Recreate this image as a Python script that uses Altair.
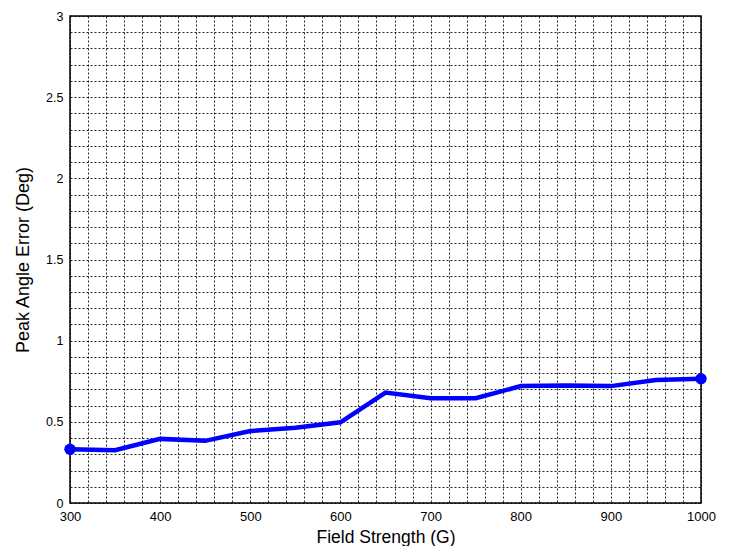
import altair as alt
import pandas as pd

field = [300, 350, 400, 450, 500, 550, 600, 650, 700, 750, 800, 850, 900, 950, 1000]
error = [0.331, 0.325, 0.395, 0.383, 0.443, 0.463, 0.497, 0.68, 0.645, 0.645, 0.72, 0.724, 0.72, 0.758, 0.765]

x_grid = list(range(300, 1001, 20))
y_grid = [round(i * 0.1, 1) for i in range(0, 31)]

df = pd.DataFrame({"field": field, "error": error})
ends = df.iloc[[0, -1]]

FONT = "Liberation Sans"

x_scale = alt.Scale(domain=[300, 1000], nice=False, zero=False)
y_scale = alt.Scale(domain=[0, 3], nice=False)

x_axis = alt.Axis(
    title="Field Strength (G)", values=x_grid, tickCount=200, labelOverlap=False,
    labelExpr="datum.value % 100 == 0 ? format(datum.value, 'd') : ''",
    grid=True, gridColor="black", gridDash=[2, 2], gridOpacity=0.85, gridWidth=1,
    ticks=False, domain=False, labelPadding=7, labelFontSize=13, titleFontSize=17.5,
    titleFontWeight="normal", labelFont=FONT, titleFont=FONT, titlePadding=5,
    labelColor="black", titleColor="black", labelFlush=False,
)
y_axis = alt.Axis(
    title="Peak Angle Error (Deg)", values=y_grid, tickCount=200, labelOverlap=False,
    labelExpr="(round(datum.value*10) % 5 == 0) ? format(datum.value, '~g') : ''",
    grid=True, gridColor="black", gridDash=[2, 2], gridOpacity=0.85, gridWidth=1,
    ticks=False, domain=False, labelPadding=7, labelFontSize=12.5, titleFontSize=18,
    titleFontWeight="normal", labelFont=FONT, titleFont=FONT, titlePadding=13,
    labelColor="black", titleColor="black", labelFlush=False,
)

line = alt.Chart(df).mark_line(color="#0000ff", strokeWidth=4.5).encode(
    x=alt.X("field:Q", scale=x_scale, axis=x_axis),
    y=alt.Y("error:Q", scale=y_scale, axis=y_axis),
)
pts = alt.Chart(ends).mark_circle(color="#0000ff", size=130, opacity=1).encode(
    x=alt.X("field:Q", scale=x_scale),
    y=alt.Y("error:Q", scale=y_scale),
)

chart = (line + pts).properties(
    width=631, height=487,
    autosize=alt.AutoSizeParams(type="none"),
    padding={"left": 62, "top": 8, "right": 20, "bottom": 43},
    background="white",
).configure_view(stroke="black", strokeWidth=1.5)

chart.save("out.html", embed_options={"renderer": "svg", "actions": False})
